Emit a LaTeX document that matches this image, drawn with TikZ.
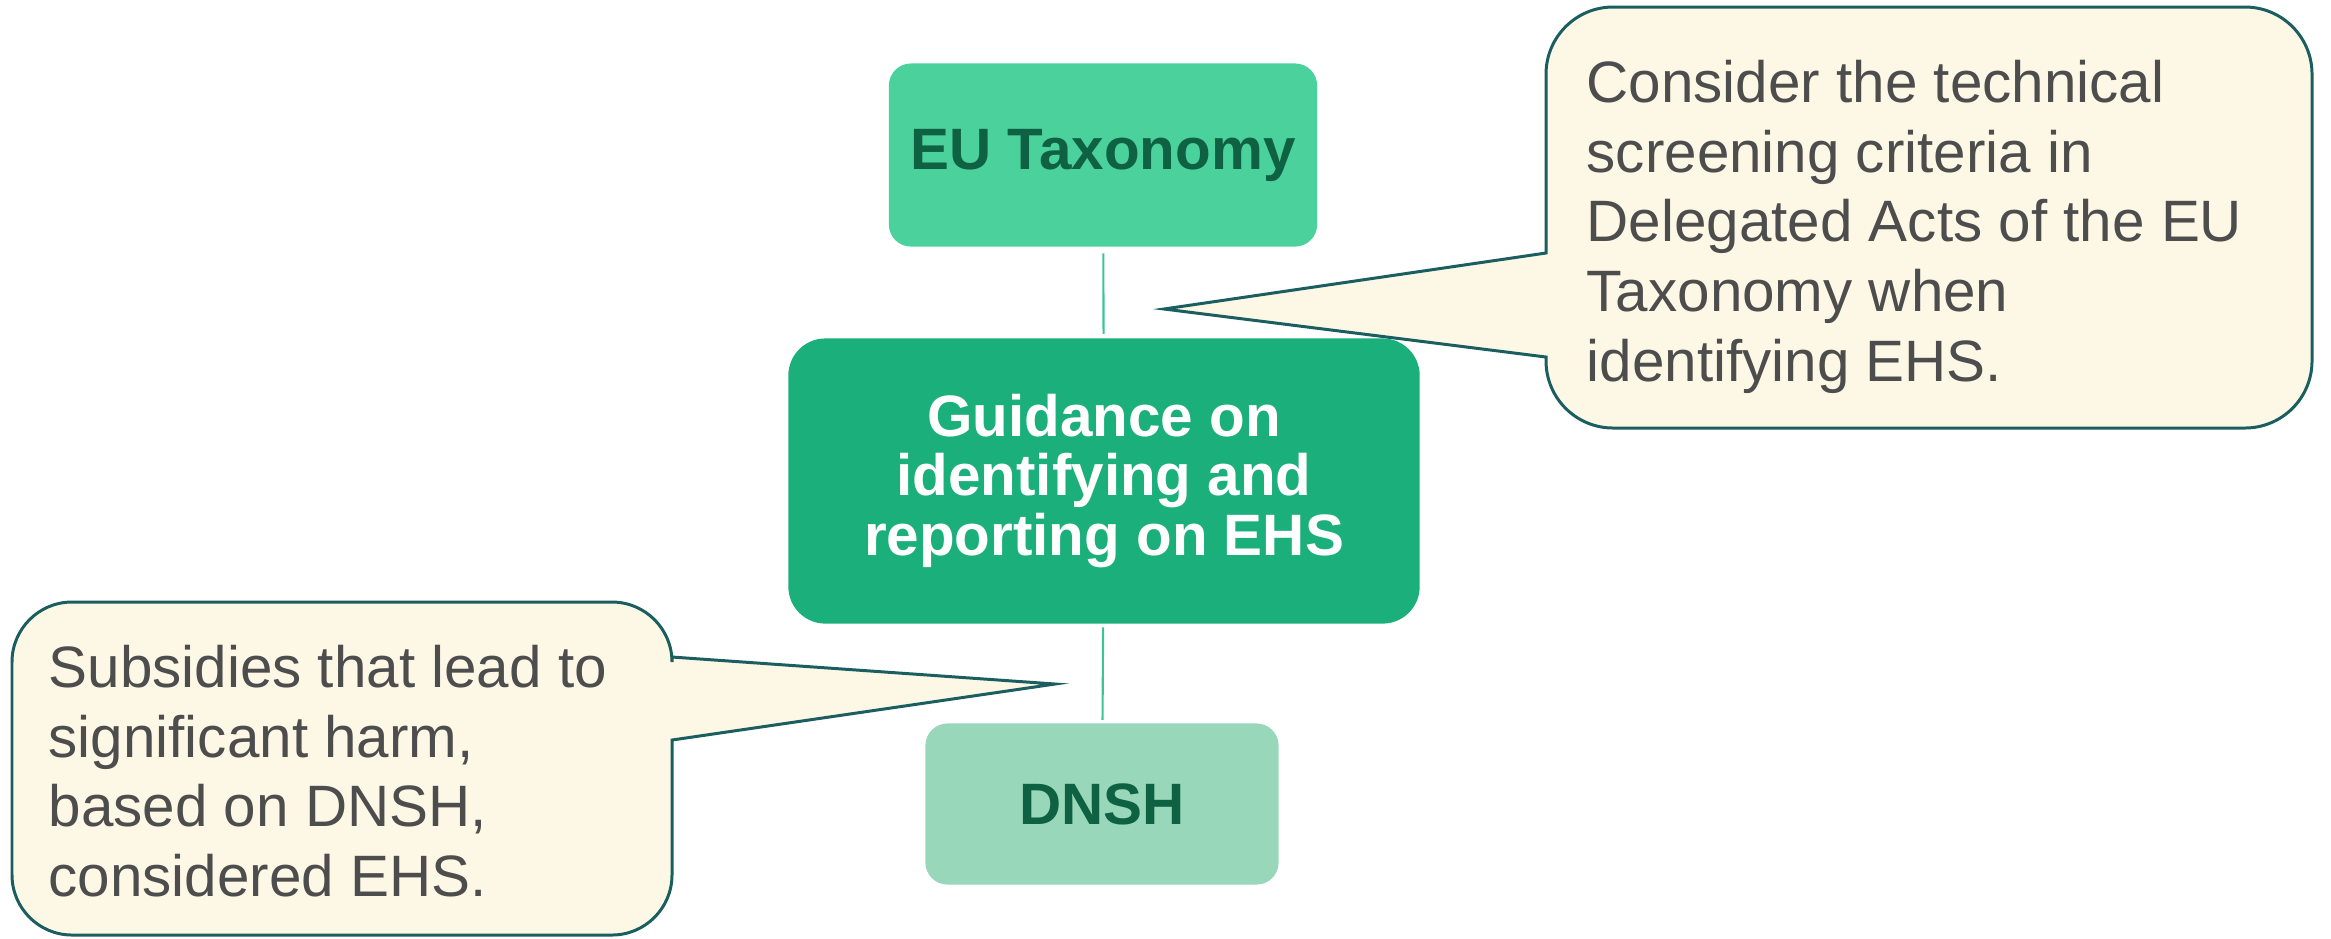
\documentclass[tikz,border=0pt]{standalone}
\usepackage{fontspec}
\setmainfont{Liberation Sans}
\usepackage{tikz}
\usetikzlibrary{calc}
\definecolor{taxgreen}{HTML}{4BD19C}
\definecolor{guidegreen}{HTML}{1BAF7C}
\definecolor{dnshgreen}{HTML}{98D7B9}
\definecolor{darkgreen}{HTML}{0E6142}
\definecolor{linegreen}{HTML}{3CC495}
\definecolor{cream}{HTML}{FDF8E6}
\definecolor{tealedge}{HTML}{1A5E60}
\definecolor{greytext}{HTML}{4D4D4D}
\tikzset{>=latex}
\tikzset{
  box/.style = {rounded corners = 0.22cm, inner sep = 0, align = center,
    font = \fontsize{16.6}{16.9}\selectfont\bfseries},
  callout/.style = {draw = tealedge, fill = cream, line width = 0.85pt},
  callouttext/.style = {anchor = north west, inner sep = 0, align = left,
    text = greytext, font = \fontsize{16.6}{19.9}\selectfont},
  link/.style = {draw = linegreen, line width = 0.6pt}
}

\begin{document}
\begin{tikzpicture}[x = 0.01cm, y = -0.01cm]
\useasboundingbox (0,0) rectangle (2331,938);

\node[box, fill = taxgreen, text = darkgreen, minimum width = 4.28cm, minimum height = 1.83cm] (tax) at (1103, 155) {EU Taxonomy};
\node[box, fill = guidegreen, text = white, rounded corners = 0.37cm, minimum width = 6.31cm, minimum height = 2.85cm] (guide) at (1104, 481) {Guidance on\\ identifying and\\ reporting on EHS};
\node[box, fill = dnshgreen, text = darkgreen, minimum width = 3.53cm, minimum height = 1.61cm] (dnsh) at (1102, 804) {DNSH};

\draw[link, shorten <= 1.7pt, shorten >= 1.1pt] (tax) -- (guide);
\draw[link, shorten <= 0.85pt, shorten >= 0.85pt] (guide) -- (dnsh);

\begin{scope}
\draw[callout] (1546, 253) [rounded corners = 0.67cm] -- (1546, 7) -- (2312, 7) -- (2312, 428) -- (1546, 428) [sharp corners] -- (1546, 357) -- (1164, 309) -- cycle;
\node[callouttext] (criteria) at (1586, 59) {Consider the technical\\ screening criteria in\\ Delegated Acts of the EU\\ Taxonomy when\\ identifying EHS.};
\end{scope}

\begin{scope}
\draw[callout] (672, 740) [rounded corners = 0.6cm] -- (672, 935) -- (12, 935) -- (12, 602) -- (672, 602) [sharp corners] -- (672, 657) -- (1055, 684) -- cycle;
\node[callouttext] (harm) at (48, 644) {Subsidies that lead to\\ significant harm,\\ based on DNSH,\\ considered EHS.};
\end{scope}

\end{tikzpicture}
\end{document}
